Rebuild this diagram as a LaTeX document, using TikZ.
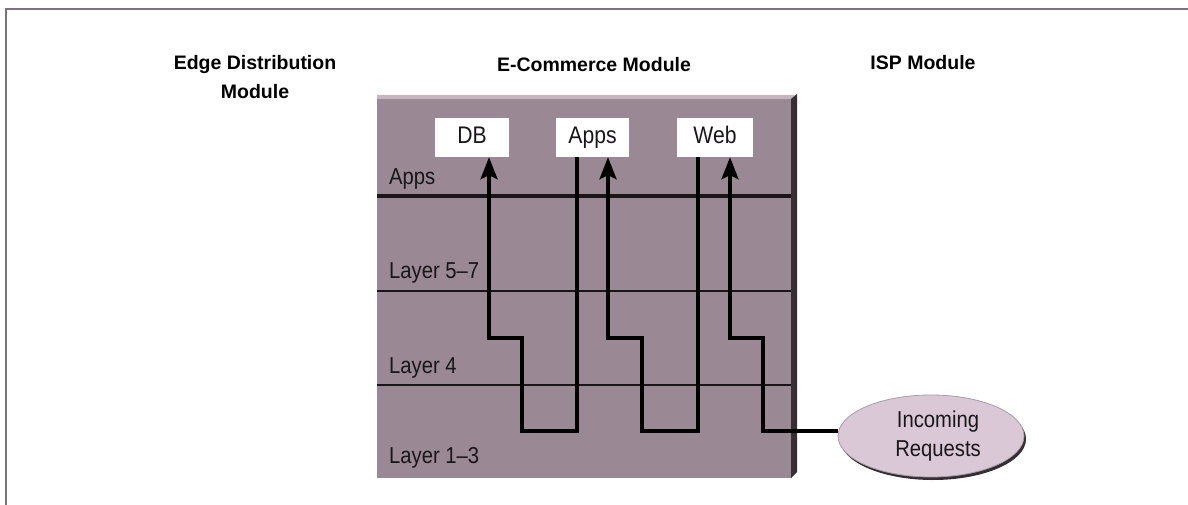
\documentclass[tikz,border=0pt]{standalone}
\usepackage{fontspec}
\setmainfont{Liberation Sans}
\newfontfamily\narrowfont{Liberation Sans}[FakeStretch=0.88]
\usetikzlibrary{arrows.meta,shapes.geometric}

\definecolor{framegray}{RGB}{125,115,125}
\definecolor{panelgray}{RGB}{154,137,148}
\definecolor{paneltop}{RGB}{196,182,190}
\definecolor{paneledge}{RGB}{55,45,52}
\definecolor{reqpink}{RGB}{218,200,214}
\definecolor{inkdark}{RGB}{25,22,25}

\tikzset{
  title/.style={font=\fontsize{19.5}{29}\selectfont\bfseries, text=black, align=center, inner sep=0pt},
  layerlabel/.style={font=\narrowfont\fontsize{23}{26}\selectfont, text=inkdark, anchor=west, inner sep=0pt},
  tier/.style={fill=white, minimum height=39pt, inner sep=0pt, text height=17pt, text depth=5pt,
               font=\narrowfont\fontsize{24}{26}\selectfont, text=inkdark},
  flow/.style={line width=3.5pt, draw=black},
  flowarrow/.style={flow, -{Stealth[length=22pt,width=17pt,inset=4pt]}},
  layerline/.style={draw=inkdark, line width=2pt},
}

\begin{document}
\begin{tikzpicture}[x=1pt,y=-1pt]
  \useasboundingbox (0,0) rectangle (1188,505);

  % outer frame: top and left rules
  \draw[framegray, line width=2pt] (6,505) -- (6,9) -- (1188,9);

  % module headings
  \node[title] (edge) at (255,77) {Edge Distribution\\Module};
  \node[title] (ecom) at (594,65) {E-Commerce Module};
  \node[title] (isp)  at (923,63) {ISP Module};

  % e-commerce panel with bevelled edges
  \fill[panelgray] (377,95) rectangle (792,478);
  \fill[paneltop] (377,95) -- (795,95) -- (792,99) -- (377,99) -- cycle;
  \fill[paneledge] (791,99) -- (797,94) -- (797,472) -- (791,478) -- cycle;

  % layer separators
  \draw[draw=inkdark, line width=4pt] (377,196) -- (791,196);
  \draw[layerline] (377,291) -- (791,291);
  \draw[layerline] (377,385) -- (791,385);

  % layer names
  \node[layerlabel] (lapps) at (389,179) {Apps};
  \node[layerlabel] (l57)   at (389,273) {Layer 5–7};
  \node[layerlabel] (l4)    at (389,368) {Layer 4};
  \node[layerlabel] (l13)   at (389,458) {Layer 1–3};

  % server tiers
  \node[tier, minimum width=74pt] (db)   at (472,137.5) {DB};
  \node[tier, minimum width=73pt] (apps) at (592.5,137.5) {Apps};
  \node[tier, minimum width=76pt] (web)  at (715,137.5) {Web};

  % incoming requests
  \fill[paneledge] (933,439) ellipse (93 and 41);
  \node[ellipse, fill=reqpink, draw=framegray!70, line width=0.8pt,
        minimum width=186pt, minimum height=82pt, inner sep=0pt,
        align=center, font=\narrowfont\fontsize{23}{29}\selectfont, text=inkdark]
        (req) at (931,436) {\hspace*{14pt}Incoming\\\hspace*{14pt}Requests};

  % request path through the layers
  \draw[flowarrow] ([yshift=5pt]req.west) -| (763,338) -| ([xshift=15pt]web.south);
  \draw[flowarrow] ([xshift=-17pt]web.south) |- (642,431) |- (608,338) -- ([xshift=15.5pt]apps.south);
  \draw[flowarrow] ([xshift=-15.5pt]apps.south) |- (522,431) |- (489,338) -- ([xshift=17pt]db.south);
\end{tikzpicture}
\end{document}
